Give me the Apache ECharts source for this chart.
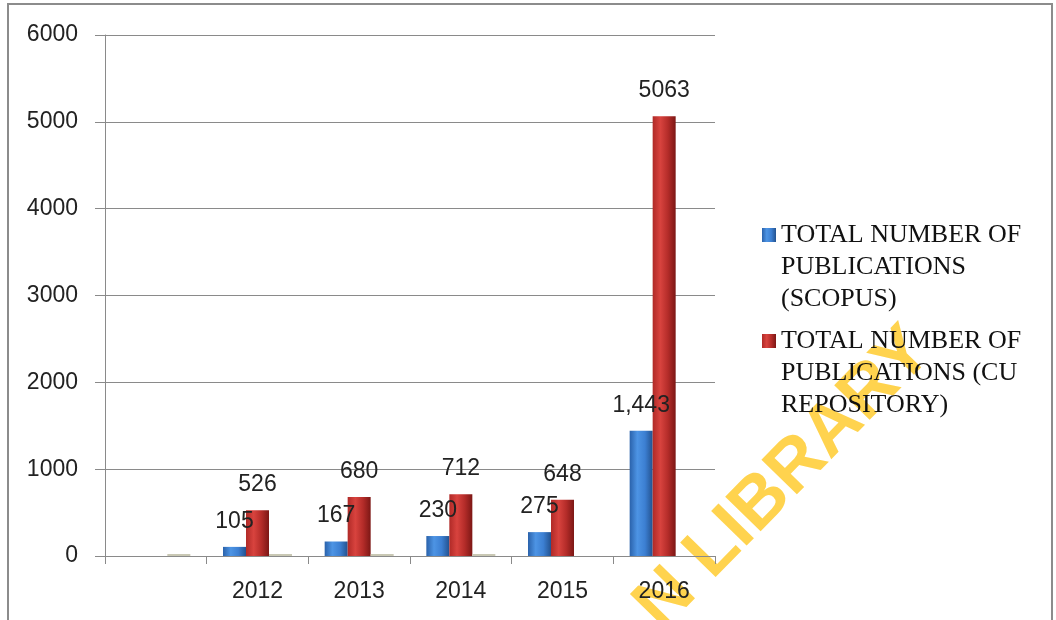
<!DOCTYPE html>
<html>
<head>
<meta charset="utf-8">
<script src="https://cdn.jsdelivr.net/npm/echarts@6/dist/echarts.min.js"></script>
<style>
  html, body { margin: 0; padding: 0; background: #fff; }
  #chart { width: 1056px; height: 620px; }
</style>
</head>
<body>
<div id="chart"></div>
<script>
// values
const categories = ['', '2012', '2013', '2014', '2015', '2016'];
const scopus = [null, 105, 167, 230, 275, 1443];
const cuRepository = [null, 526, 680, 712, 648, 5063];
const blankSeries = [0, 0, 0, 0, null, null];   // flat third series in the original
const yMin = 0, yMax = 6000, yStep = 1000;

const scopusName = 'TOTAL NUMBER OF\nPUBLICATIONS\n(SCOPUS)';
const cuName = 'TOTAL NUMBER OF\nPUBLICATIONS (CU\nREPOSITORY)';

const chart = echarts.init(document.getElementById('chart'));

const sansFont = '"Liberation Sans", Arial, sans-serif';
const serifFont = '"Liberation Serif", "Times New Roman", serif';

function barGradient(stops) {
    return new echarts.graphic.LinearGradient(0, 0, 1, 0,
        stops.map((c, i) => ({ offset: i / (stops.length - 1), color: c })));
}

// square sitting on the first text line of a 3-line legend item
const legendIcon = 'path://M0 9h14v14H0z M0 0h0.01v0.01H0z M13.99 95.99h0.01v0.01h-0.01z';

const labelStyle = {
    show: true,
    position: 'top',
    distance: 14,
    fontFamily: sansFont,
    fontSize: 23,
    color: '#222'
};

chart.setOption({
    animation: false,
    backgroundColor: '#fff',
    textStyle: { fontFamily: sansFont },
    grid: { left: 105, right: 341, top: 35, bottom: 64 },
    legend: {
        orient: 'vertical',
        left: 757,
        top: 214,
        itemWidth: 14,
        itemHeight: 96,
        itemGap: 10,
        icon: legendIcon,
        data: [scopusName, cuName],
        textStyle: {
            fontFamily: serifFont,
            fontSize: 26,
            lineHeight: 32,
            color: '#111'
        }
    },
    xAxis: {
        type: 'category',
        data: categories,
        axisLine: { lineStyle: { color: '#8a8a8a', width: 1 } },
        axisTick: { show: true, length: 8, lineStyle: { color: '#8a8a8a' } },
        axisLabel: { fontSize: 23, color: '#222', margin: 24, fontFamily: sansFont }
    },
    yAxis: {
        type: 'value',
        min: yMin,
        max: yMax,
        interval: yStep,
        axisLine: { show: true, lineStyle: { color: '#8a8a8a', width: 1 } },
        axisTick: { show: true, length: 10, lineStyle: { color: '#8a8a8a' } },
        axisLabel: {
            fontSize: 23, color: '#222', margin: 27, fontFamily: sansFont,
            formatter: v => String(v)
        },
        splitLine: { lineStyle: { color: '#8a8a8a', width: 1 } }
    },
    series: [{
        name: scopusName,
        type: 'bar',
        data: scopus,
        barWidth: 23,
        barGap: '0%',
        itemStyle: { color: barGradient(['#2a62ab', '#4d94e4', '#3c7fd2', '#23528f']) },
        label: Object.assign({}, labelStyle, {
            formatter: p => p.value.toLocaleString('en-US')
        })
    }, {
        name: cuName,
        type: 'bar',
        data: cuRepository,
        barWidth: 23,
        barGap: '0%',
        itemStyle: { color: barGradient(['#b02a27', '#d8433e', '#b42c29', '#7c1715']) },
        label: Object.assign({}, labelStyle, { formatter: p => String(p.value) })
    }, {
        name: 'blank',
        type: 'bar',
        data: blankSeries,
        barWidth: 23,
        barGap: '0%',
        barMinHeight: 2,
        itemStyle: { color: '#c9c8b4' },
        silent: true
    }],
    graphic: [{
        type: 'rect',
        z: 100,
        shape: { x: 8, y: 4, width: 1044, height: 660 },
        style: { fill: null, stroke: '#8c8c8c', lineWidth: 2 }
    }, {
        type: 'text',
        z: -1,
        x: 784,
        y: 479,
        rotation: Math.PI * 45.6 / 180,
        style: {
            text: 'N LIBRARY',
            fontFamily: sansFont,
            fontWeight: 'bold',
            fontSize: 72,
            fill: '#ffd34e',
            align: 'center',
            verticalAlign: 'middle'
        }
    }]
});
</script>
</body>
</html>
